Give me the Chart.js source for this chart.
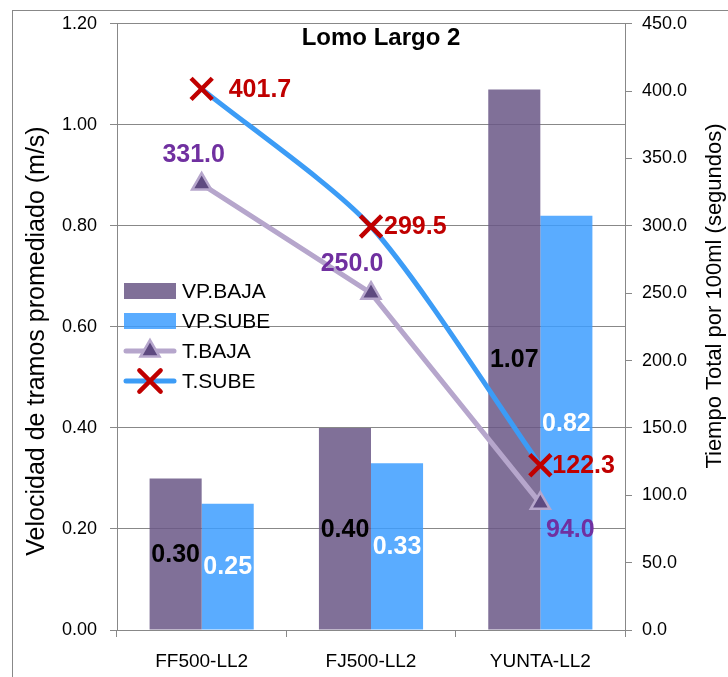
<!DOCTYPE html>
<html>
<head>
<meta charset="utf-8">
<script src="https://cdn.jsdelivr.net/npm/chart.js@4"></script>
<style>
  html, body { margin: 0; padding: 0; background: #ffffff; }
  #wrap { width: 728px; height: 677px; }
</style>
</head>
<body>
<div id="wrap"><canvas id="chart" width="728" height="677"></canvas></div>
<script>
// ---- data ----
const categories = ['FF500-LL2', 'FJ500-LL2', 'YUNTA-LL2'];
const vpBaja = [0.30, 0.40, 1.07];   // velocidad promedio, bajada (m/s)
const vpSube = [0.25, 0.33, 0.82];   // velocidad promedio, subida (m/s)
const tBaja  = [331.0, 250.0, 94.0]; // tiempo total por 100 ml, bajada (s)
const tSube  = [401.7, 299.5, 122.3];// tiempo total por 100 ml, subida (s)
const seriesNames = ['VP.BAJA', 'VP.SUBE', 'T.BAJA', 'T.SUBE'];
const chartTitle = 'Lomo Largo 2';
const leftAxisTitle = 'Velocidad de tramos promediado (m/s)';
const rightAxisTitle = 'Tiempo Total por 100ml (segundos)';

// ---- styles ----
const FONT = "'Liberation Sans', Arial, sans-serif";
const GRID = '#888888';
const C_BAJA_BAR = 'rgba(106, 87, 134, 0.85)';
const C_SUBE_BAR = 'rgba(61, 157, 255, 0.85)';
const C_BAJA_LINE = '#b6a6cc';
const C_BAJA_MARK = '#5e4a80';
const C_SUBE_LINE = '#3c9cf6';
const C_SUBE_MARK = '#c00000';
const C_LBL_RED = '#c00000';
const C_LBL_PURPLE = '#7030a0';

// label offsets (pixels) for the line value labels, per point
const lineLabelStyle = {
  2: { color: C_LBL_PURPLE, offsets: [[-8, -30, 'center'], [-19, -30, 'center'], [30, 26, 'center']] },
  3: { color: C_LBL_RED,    offsets: [[27, 0, 'left'], [13, 0, 'left'], [12, 0, 'left']] }
};

// axis title placement: [x, centre y, font size]
const axisTitleStyle = [
  [37, 341, 25, leftAxisTitle],
  [715, 296, 22, rightAxisTitle]
];

function drawPointAt(ctx, d, x, y) {
  ctx.fillStyle = d.pointBackgroundColor;
  ctx.strokeStyle = d.pointBorderColor;
  ctx.lineWidth = d.pointBorderWidth;
  Chart.helpers.drawPoint(ctx, {
    pointStyle: d.pointStyle,
    radius: d.pointRadius,
    rotation: 0,
    borderWidth: d.pointBorderWidth
  }, x, y);
}

const decorPlugin = {
  id: 'decor',
  beforeDraw(chart) {
    const ctx = chart.ctx;
    ctx.save();
    ctx.fillStyle = '#ffffff';
    ctx.fillRect(0, 0, chart.width, chart.height);
    ctx.strokeStyle = GRID;
    ctx.lineWidth = 1;
    ctx.strokeRect(12.5, 10.5, chart.width + 20, chart.height + 20);
    ctx.restore();
  },
  afterDraw(chart) {
    // axis titles, both reading bottom to top
    const ctx = chart.ctx;
    ctx.save();
    ctx.fillStyle = '#000000';
    ctx.textAlign = 'center';
    ctx.textBaseline = 'middle';
    axisTitleStyle.forEach(([x, y, size, t]) => {
      ctx.save();
      ctx.font = size + 'px ' + FONT;
      ctx.translate(x, y);
      ctx.rotate(-Math.PI / 2);
      ctx.fillText(t, 0, 0);
      ctx.restore();
    });
    ctx.restore();
  },
  afterDatasetsDraw(chart) {
    const ctx = chart.ctx;
    ctx.save();
    ctx.textBaseline = 'middle';

    // bar value labels, centred in each bar
    ctx.font = 'bold 25px ' + FONT;
    ctx.textAlign = 'center';
    [[0, '#000000'], [1, '#ffffff']].forEach(([di, col]) => {
      const meta = chart.getDatasetMeta(di);
      const vals = chart.data.datasets[di].data;
      meta.data.forEach((el, i) => {
        ctx.fillStyle = col;
        ctx.fillText(vals[i].toFixed(2), el.x, (el.y + el.base) / 2 + 1);
      });
    });

    // line value labels
    Object.keys(lineLabelStyle).forEach(k => {
      const di = +k;
      const st = lineLabelStyle[k];
      const meta = chart.getDatasetMeta(di);
      const vals = chart.data.datasets[di].data;
      meta.data.forEach((el, i) => {
        const [dx, dy, al] = st.offsets[i];
        ctx.fillStyle = st.color;
        ctx.textAlign = al;
        ctx.fillText(vals[i].toFixed(1), el.x + dx, el.y + dy + 1);
      });
    });

    // chart title
    ctx.fillStyle = '#000000';
    ctx.textAlign = 'center';
    ctx.font = 'bold 24px ' + FONT;
    ctx.fillText(chartTitle, 381, 38);

    // legend inside the plot area
    const lx = 124, sw = 52, tx = 182, rows = [291, 321, 351, 381];
    const ds = chart.data.datasets;
    ctx.font = '21px ' + FONT;
    ctx.textAlign = 'left';
    rows.forEach((ry, i) => {
      const d = ds[i];
      if (d.type === 'bar') {
        ctx.fillStyle = d.backgroundColor;
        ctx.fillRect(lx, ry - 8, sw, 16);
      } else {
        ctx.strokeStyle = d.borderColor;
        ctx.lineWidth = d.borderWidth;
        ctx.lineCap = 'round';
        ctx.beginPath();
        ctx.moveTo(lx + 2, ry);
        ctx.lineTo(lx + sw - 2, ry);
        ctx.stroke();
        drawPointAt(ctx, d, lx + sw / 2, ry);
      }
      ctx.fillStyle = '#000000';
      ctx.fillText(seriesNames[i], tx, ry + 1);
    });
    ctx.restore();
  }
};

new Chart(document.getElementById('chart'), {
  data: {
    labels: categories,
    datasets: [
      { type: 'bar', label: seriesNames[0], data: vpBaja, yAxisID: 'y',
        backgroundColor: C_BAJA_BAR, borderWidth: 0, order: 2,
        barPercentage: 1.0, categoryPercentage: 0.615 },
      { type: 'bar', label: seriesNames[1], data: vpSube, yAxisID: 'y',
        backgroundColor: C_SUBE_BAR, borderWidth: 0, order: 2,
        barPercentage: 1.0, categoryPercentage: 0.615 },
      { type: 'line', label: seriesNames[2], data: tBaja, yAxisID: 'y2',
        borderColor: C_BAJA_LINE, borderWidth: 5, tension: 0, fill: false,
        pointStyle: 'triangle', pointRadius: 11,
        pointBackgroundColor: C_BAJA_MARK, pointBorderColor: C_BAJA_LINE,
        pointBorderWidth: 2.5, order: 1 },
      { type: 'line', label: seriesNames[3], data: tSube, yAxisID: 'y2',
        borderColor: C_SUBE_LINE, borderWidth: 5, tension: 0.25, fill: false,
        pointStyle: 'crossRot', pointRadius: 15,
        pointBackgroundColor: C_SUBE_MARK, pointBorderColor: C_SUBE_MARK,
        pointBorderWidth: 4.5, order: 0 }
    ]
  },
  options: {
    responsive: false,
    animation: false,
    devicePixelRatio: 1,
    layout: { padding: { left: 0, right: 0, top: 23, bottom: 0 } },
    plugins: { legend: { display: false }, title: { display: false }, tooltip: { enabled: false } },
    scales: {
      x: {
        offset: true,
        grid: { offset: true, drawOnChartArea: false, tickLength: 7, color: GRID },
        border: { color: GRID },
        ticks: { color: '#000000', font: { family: FONT, size: 19 }, padding: 13 },
        afterFit(s) { s.height = 47; }
      },
      y: {
        position: 'left',
        min: 0, max: 1.2,
        grid: { color: GRID, tickLength: 7 },
        border: { color: GRID },
        ticks: { stepSize: 0.2, color: '#000000', font: { family: FONT, size: 18 }, padding: 13,
                 callback: v => v.toFixed(2) },
        afterFit(s) { s.width = 117; }
      },
      y2: {
        position: 'right',
        min: 0, max: 450,
        grid: { drawOnChartArea: false, color: GRID, tickLength: 7 },
        border: { color: GRID },
        ticks: { stepSize: 50, color: '#000000', font: { family: FONT, size: 18 }, padding: 10,
                 callback: v => v.toFixed(1) },
        afterFit(s) { s.width = 103; }
      }
    }
  },
  plugins: [decorPlugin]
});
</script>
</body>
</html>
